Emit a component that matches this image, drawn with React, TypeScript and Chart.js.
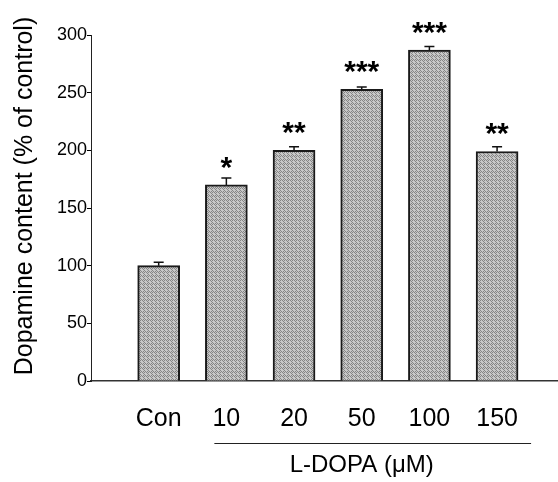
import React, { useEffect, useRef } from "react";
import { Chart, registerables } from "chart.js";

Chart.register(...registerables);

const categories = ["Con", "10", "20", "50", "100", "150"];
const values = [100, 170, 200, 253, 287, 199];
const errors = [3, 6, 3, 2, 3, 4];
const stars = ["", "*", "**", "***", "***", "**"];
const yTicks = [0, 50, 100, 150, 200, 250, 300];
const yTitle = "Dopamine content (% of control)";
const groupLabel = "L-DOPA (\u03BCM)";

const FONT = "Arial, 'Liberation Sans', sans-serif";

function makePattern(): CanvasPattern | string {
  const c = document.createElement("canvas");
  c.width = 4;
  c.height = 4;
  const g = c.getContext("2d");
  if (!g) return "#a8a8a8";
  g.fillStyle = "#c8c8c8";
  g.fillRect(0, 0, 4, 4);
  g.fillStyle = "#858585";
  const dark = [
    [0, 0], [2, 0], [1, 1], [3, 1], [0, 2], [2, 2], [1, 3], [3, 3],
  ];
  dark.forEach(([x, y], i) => {
    if (i % 3 !== 2) g.fillRect(x, y, 1, 1);
  });
  const p = g.createPattern(c, "repeat");
  return p || "#a8a8a8";
}

const overlayPlugin = {
  id: "overlay",
  afterDatasetsDraw(chart: any) {
    const ctx = chart.ctx;
    const meta = chart.getDatasetMeta(0);
    const ys = chart.scales.y;
    const xs = chart.scales.x;
    ctx.save();
    // error bars
    ctx.strokeStyle = "#111";
    ctx.lineWidth = 1.5;
    meta.data.forEach((bar: any, i: number) => {
      const top = ys.getPixelForValue(values[i]);
      const et = ys.getPixelForValue(values[i] + errors[i]);
      ctx.beginPath();
      ctx.moveTo(bar.x, top);
      ctx.lineTo(bar.x, et);
      ctx.moveTo(bar.x - 5, et);
      ctx.lineTo(bar.x + 5, et);
      ctx.stroke();
    });
    // significance stars
    ctx.fillStyle = "#000";
    ctx.font = `bold 30px ${FONT}`;
    ctx.textAlign = "center";
    ctx.textBaseline = "alphabetic";
    const m = ctx.measureText("*");
    const off = (m.actualBoundingBoxAscent - m.actualBoundingBoxDescent) / 2;
    meta.data.forEach((bar: any, i: number) => {
      if (!stars[i]) return;
      const top = ys.getPixelForValue(values[i]);
      const cy = top - 22;
      ctx.fillText(stars[i], bar.x, cy + off);
    });
    // group line and label
    const x1 = xs.getPixelForValue(1) - 12;
    const x2 = xs.getPixelForValue(5) + 34;
    ctx.strokeStyle = "#222";
    ctx.lineWidth = 1;
    ctx.beginPath();
    ctx.moveTo(x1, 443.5);
    ctx.lineTo(x2, 443.5);
    ctx.stroke();
    ctx.font = `24px ${FONT}`;
    ctx.textBaseline = "middle";
    ctx.fillText(groupLabel, xs.getPixelForValue(3), 465);
    // y title
    ctx.translate(25, 196);
    ctx.rotate(-Math.PI / 2);
    ctx.font = `25px ${FONT}`;
    ctx.fillText(yTitle, 0, 0);
    ctx.restore();
  },
};

export default function App() {
  const ref = useRef<HTMLCanvasElement | null>(null);
  useEffect(() => {
    document.body.style.margin = "0";
    const canvas = ref.current;
    if (!canvas) return;
    const fill = makePattern();
    const chart = new Chart(canvas, {
      type: "bar",
      data: {
        datasets: [
          {
            data: values.map((v, i) => ({ x: i, y: v })),
            backgroundColor: fill as any,
            borderColor: "#1a1a1a",
            borderWidth: 2,
            borderSkipped: "bottom",
            barThickness: 42,
          },
        ],
      },
      options: {
        animation: false,
        responsive: false,
        devicePixelRatio: 1,
        layout: { padding: { top: 35, right: 0, left: 0, bottom: 0 } },
        plugins: { legend: { display: false }, tooltip: { enabled: false } },
        scales: {
          x: {
            type: "linear",
            offset: false,
            min: -1,
            max: 5.9,
            afterFit: (s: any) => {
              s.height = 101;
            },
            afterBuildTicks: (s: any) => {
              s.ticks = categories.map((_, i) => ({ value: i }));
            },
            grid: { display: false, offset: false },
            border: { display: true, color: "#333", width: 1.5 },
            ticks: {
              color: "#000",
              font: { size: 25, family: FONT },
              padding: 15,
              autoSkip: false,
              maxRotation: 0,
              callback: (v: any) => categories[v] ?? "",
            },
          },
          y: {
            min: 0,
            max: 300,
            afterFit: (s: any) => {
              s.width = 91;
            },
            afterBuildTicks: (s: any) => {
              s.ticks = yTicks.map((v) => ({ value: v }));
            },
            grid: {
              display: true,
              drawOnChartArea: false,
              drawTicks: true,
              tickLength: 4,
              color: "#000",
            },
            border: { display: true, color: "#222", width: 1 },
            ticks: {
              color: "#000",
              font: { size: 18, family: FONT },
              padding: 0,
            },
          },
        },
      },
      plugins: [overlayPlugin],
    });
    return () => chart.destroy();
  }, []);
  return (
    <div style={{ position: "relative", width: 558, height: 482, background: "#fff" }}>
      <canvas ref={ref} width={558} height={482} style={{ display: "block" }} />
    </div>
  );
}
